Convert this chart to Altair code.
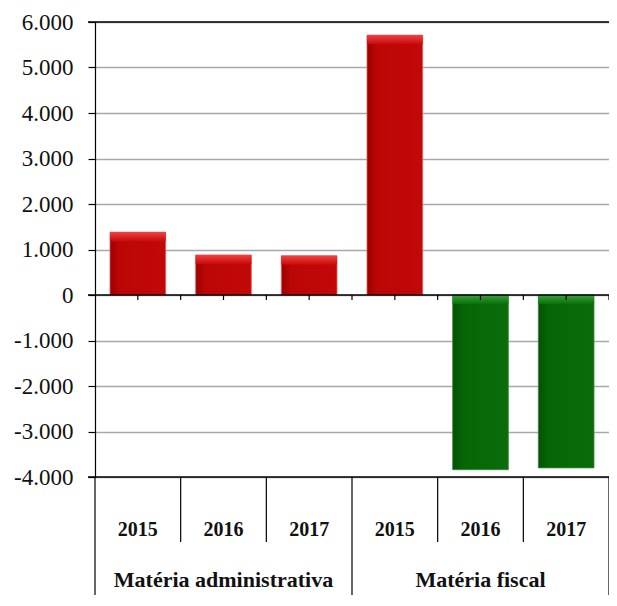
import altair as alt
import pandas as pd

# ---- data ----
groups = ["Matéria administrativa", "Matéria fiscal"]
bar_groups = ["Matéria administrativa"] * 3 + ["Matéria fiscal"] * 3
years = ["2015", "2016", "2017", "2015", "2016", "2017"]
values = [1380, 880, 860, 5710, -3840, -3800]
y_ticks = [-4000, -3000, -2000, -1000, 0, 1000, 2000, 3000, 4000, 5000, 6000]

W, H = 514, 455
FONT = "'Liberation Serif', 'Times New Roman', 'DejaVu Serif', serif"

df = pd.DataFrame({"year": years, "group": bar_groups, "value": values})
df["idx"] = range(len(df))
df["x0"] = df["idx"] + 0.175
df["x1"] = df["idx"] + 0.825
df["xc"] = df["idx"] + 0.5
df["top"] = df["value"].clip(lower=0)
df["zero"] = 0

xs = alt.Scale(domain=[0, len(years)], nice=False, zero=False)
ys = alt.Scale(domain=[min(y_ticks), max(y_ticks)], nice=False, zero=False)

base = alt.Chart(df)

red = alt.Gradient(gradient="linear", x1=0, x2=1, y1=0, y2=0,
                   stops=[alt.GradientStop(color="#9c0000", offset=0),
                          alt.GradientStop(color="#bc0606", offset=0.18),
                          alt.GradientStop(color="#c20808", offset=1)])
green = alt.Gradient(gradient="linear", x1=0, x2=1, y1=0, y2=0,
                     stops=[alt.GradientStop(color="#045004", offset=0),
                            alt.GradientStop(color="#066606", offset=0.18),
                            alt.GradientStop(color="#0a6c0a", offset=1)])
red_top = alt.Gradient(gradient="linear", x1=0, x2=0, y1=0, y2=1,
                       stops=[alt.GradientStop(color="#f04040", offset=0),
                              alt.GradientStop(color="#c80a0a", offset=1)])
green_top = alt.Gradient(gradient="linear", x1=0, x2=0, y1=0, y2=1,
                         stops=[alt.GradientStop(color="#3aa03a", offset=0),
                                alt.GradientStop(color="#0a700a", offset=1)])

# y axis with gridlines
yaxis = alt.Axis(values=y_ticks, title=None, tickSize=7, tickColor="black",
                 domainColor="black", domainWidth=1.2, tickWidth=1.2,
                 grid=True, gridColor="#a8a8a8", gridWidth=1.3,
                 labelFont=FONT, labelFontSize=23, labelColor="#111",
                 labelPadding=15,
                 labelExpr="(datum.value < 0 ? '-' : '') + replace(format(abs(datum.value), ','), ',', '.')")

grid = base.mark_rule(opacity=0).encode(
    y=alt.Y("value:Q", scale=ys, axis=yaxis),
    x=alt.X("xc:Q", scale=xs, axis=None),
)

bars_pos = base.transform_filter("datum.value >= 0").mark_rect(
    color=red, stroke="#e06060", strokeWidth=0.8
).encode(
    x=alt.X("x0:Q", scale=xs, axis=None), x2="x1:Q",
    y=alt.Y("value:Q", scale=ys), y2="zero:Q",
)
bars_neg = base.transform_filter("datum.value < 0").mark_rect(
    color=green, stroke="#3a8a3a", strokeWidth=0.8
).encode(
    x=alt.X("x0:Q", scale=xs, axis=None), x2="x1:Q",
    y=alt.Y("value:Q", scale=ys), y2="zero:Q",
)
band_pos = base.transform_filter("datum.value >= 0").mark_rect(
    color=red_top, y2Offset=9
).encode(
    x=alt.X("x0:Q", scale=xs, axis=None), x2="x1:Q",
    y=alt.Y("top:Q", scale=ys), y2="top:Q",
)
band_neg = base.transform_filter("datum.value < 0").mark_rect(
    color=green_top, y2Offset=9
).encode(
    x=alt.X("x0:Q", scale=xs, axis=None), x2="x1:Q",
    y=alt.Y("top:Q", scale=ys), y2="top:Q",
)

# black horizontal lines: top, zero, bottom
hl = pd.DataFrame({"y": [max(y_ticks), 0, min(y_ticks)]})
hlines = alt.Chart(hl).mark_rule(color="black", strokeWidth=1.3).encode(
    y=alt.Y("y:Q", scale=ys), x=alt.value(-7), x2=alt.value(W)
)

# small ticks under the zero line
zt = pd.DataFrame({"x": [k * 0.5 for k in range(1, 2 * len(years) + 1)], "z": 0})
zticks = alt.Chart(zt).mark_rule(color="black", strokeWidth=1.2, y2Offset=5).encode(
    x=alt.X("x:Q", scale=xs), y=alt.Y("z:Q", scale=ys), y2="z:Q"
)

# category separators below the plot
sep_year = pd.DataFrame({"x": [1, 2, 4, 5]})
sep_group = pd.DataFrame({"x": [0, 3, 6]})
seps_y = alt.Chart(sep_year).mark_rule(color="black", strokeWidth=1.2).encode(
    x=alt.X("x:Q", scale=xs), y=alt.value(H), y2=alt.value(H + 65)
)
seps_g = alt.Chart(sep_group).mark_rule(color="black", strokeWidth=1.2).encode(
    x=alt.X("x:Q", scale=xs), y=alt.value(H), y2=alt.value(H + 140)
)

year_text = base.mark_text(font=FONT, fontSize=20, fontWeight="bold",
                           color="#111", baseline="middle").encode(
    x=alt.X("xc:Q", scale=xs), y=alt.value(H + 53), text="year:N"
)

gdf = pd.DataFrame({"group": groups, "x": [1.5, 4.5]})
group_text = alt.Chart(gdf).mark_text(font=FONT, fontSize=22, fontWeight="bold",
                                      color="#111", baseline="middle").encode(
    x=alt.X("x:Q", scale=xs), y=alt.value(H + 103), text="group:N"
)

chart = alt.layer(
    grid, bars_pos, bars_neg, band_pos, band_neg, hlines, zticks,
    seps_y, seps_g, year_text, group_text
).properties(
    width=W, height=H,
    autosize=alt.AutoSizeParams(type="none"),
    padding={"left": 87, "top": 14, "right": 0, "bottom": 118},
).configure_view(strokeWidth=0).configure(background="white")

chart.save("out.html", embed_options={"renderer": "svg", "actions": False})
